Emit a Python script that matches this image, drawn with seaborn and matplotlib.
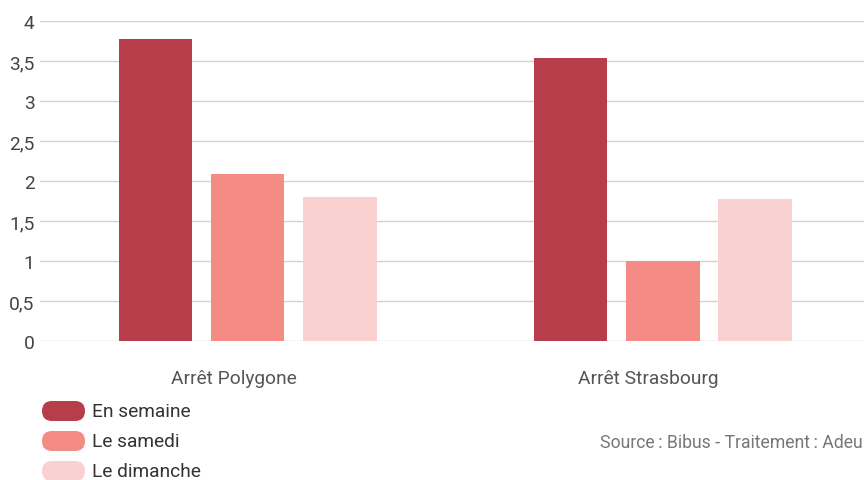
import matplotlib
matplotlib.use("Agg")
import matplotlib.pyplot as plt
from matplotlib.patches import FancyBboxPatch
from matplotlib.transforms import ScaledTranslation
import seaborn as sns
import pandas as pd

categories = ["Arrêt Polygone", "Arrêt Strasbourg"]
series = ["En semaine", "Le samedi", "Le dimanche"]
en_semaine = [3.78, 3.54]
le_samedi = [2.09, 1.0]
le_dimanche = [1.80, 1.78]
y_ticks = [0, 0.5, 1, 1.5, 2, 2.5, 3, 3.5, 4]
y_tick_labels = ["0", "0,5", "1", "1,5", "2", "2,5", "3", "3,5", "4"]
colors = ["#b73d4b", "#f48b84", "#f9d1d0"]
source_text = "Source\u2009: Bibus - Traitement\u2009: Adeu"

rows = []
for name, vals in zip(series, [en_semaine, le_samedi, le_dimanche]):
    for c, v in zip(categories, vals):
        rows.append({"cat": c, "serie": name, "val": v})
df = pd.DataFrame(rows)

sns.set_theme(style="white")
plt.rcParams["font.family"] = ["Roboto", "DejaVu Sans"]

W, H = 864, 481
fig = plt.figure(figsize=(W / 100, H / 100), dpi=100)
ax = fig.add_axes([40 / W, 1 - 342 / H, (864 - 40) / W, 320 / H])

sns.barplot(data=df, x="cat", y="val", hue="serie", order=categories,
            hue_order=series, palette=colors, width=0.666, gap=0.2,
            saturation=1, legend=False, ax=ax, zorder=3, linewidth=0)

ax.set_xlim(-0.5, 1.485)
ax.set_yticks(y_ticks)
ax.set_yticklabels(y_tick_labels)
ax.set_ylim(-0.001, 4.001)
ax.yaxis.grid(True, color="#d3d3d3", linewidth=1, zorder=0)
ax.set_axisbelow(True)
for s in ax.spines.values():
    s.set_visible(False)
ax.set_xlabel("")
ax.set_ylabel("")
ax.tick_params(axis="y", length=0, pad=4, labelsize=13.8, labelcolor="#444444")
ax.tick_params(axis="x", length=0, pad=20, labelsize=13.8, labelcolor="#555555")
shift = ScaledTranslation(-14 / 100, 0, fig.dpi_scale_trans)
for lab in ax.get_xticklabels():
    lab.set_transform(lab.get_transform() + shift)

# overlay in pixel coordinates for legend
ov = fig.add_axes([0, 0, 1, 1], facecolor="none")
ov.set_xlim(0, W)
ov.set_ylim(H, 0)
ov.axis("off")
for i, (name, col) in enumerate(zip(series, colors)):
    yc = 412 + 30 * i
    patch = FancyBboxPatch((42, yc - 10), 43, 20,
                           boxstyle="round,pad=0,rounding_size=10",
                           facecolor=col, edgecolor="none")
    ov.add_patch(patch)
    ov.text(92, yc, name, ha="left", va="center",
            fontsize=13.8, color="#333333")

ov.text(863, 443, source_text, ha="right", va="center",
        fontsize=12.7, color="#777777")

fig.savefig("out.png", dpi=100, facecolor="white")
